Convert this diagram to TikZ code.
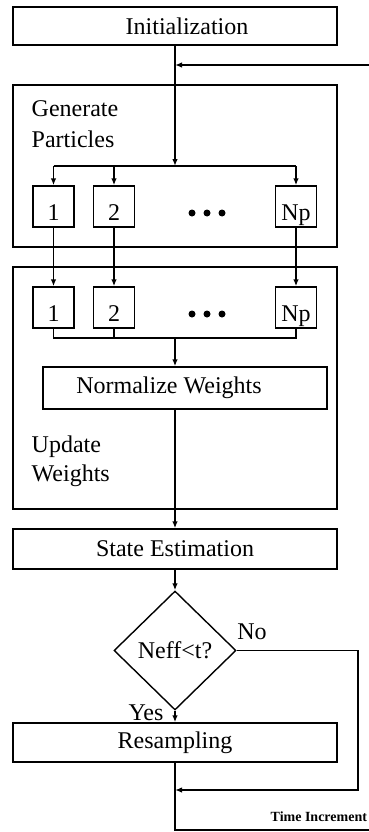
\documentclass[tikz,border=0pt]{standalone}
\usepackage{fontspec}
\setmainfont{Liberation Serif}
\usetikzlibrary{shapes.geometric,arrows.meta}
\begin{document}
\begin{tikzpicture}[x=1pt,y=-1pt,
  line width=1.4pt,
  txt/.style={font=\fontsize{24}{28}\selectfont, inner sep=0pt},
  box/.style={draw, inner sep=0pt, font=\fontsize{24}{28}\selectfont},
  wide/.style={box, minimum width=324pt},
  cell/.style={box, minimum width=41pt, minimum height=41pt, text height=27pt, text depth=0pt},
  arr/.style={-{Latex[length=7pt,width=5.5pt]}},
  dot/.style={fill=black}]
\useasboundingbox (0,0) rectangle (368,832);

% main steps
\node[wide, minimum height=38pt, label={[txt,xshift=12pt]center:Initialization}] (init) at (175,26) {};
\node[wide, minimum height=162pt] (gen) at (175,166) {};
\node[wide, minimum height=242pt] (upd) at (175,388) {};
\node[wide, minimum height=40pt] (state) at (175,549) {State Estimation};
\node[draw, diamond, inner sep=0pt, minimum width=122pt, minimum height=119pt,
      font=\fontsize{24}{28}\selectfont] (test) at (175,650.5) {Neff<t?};
\node[wide, minimum height=39pt] (resamp) at (175,742.5) {Resampling};

% block titles
\node[txt, anchor=base west] (genA) at (31,117) {Generate};
\node[txt, anchor=base west] (genB) at (31,147) {Particles};
\node[txt, anchor=base west] (updA) at (31,452) {Update};
\node[txt, anchor=base west] (updB) at (31,481) {Weights};

% particle cells
\node[cell] (g1) at (53.5,206.5) {1};
\node[cell] (g2) at (114,206.5) {2};
\node[cell] (gn) at (296,206.5) {Np};
\node[cell] (u1) at (53.5,307.5) {1};
\node[cell] (u2) at (114,307.5) {2};
\node[cell] (un) at (296,307.5) {Np};
\foreach \x in {192,207,222} {
  \fill[dot] (\x,213) circle (3.5pt);
  \fill[dot] (\x,314) circle (3.5pt);
}

\node[box, minimum width=284pt, minimum height=42pt,
      label={[txt,xshift=-16pt]center:Normalize Weights}] (norm) at (185,388) {};

% branch labels
\node[txt] (nolab) at (252,632) {No};
\node[txt] (yeslab) at (146,713) {Yes};
\node[font=\bfseries\fontsize{14}{16}\selectfont, inner sep=0pt, anchor=west] (tlab) at (270,817) {Time Increment};

% connectors
\coordinate (split) at (175,166);
\coordinate (fbin) at (175,65);
\coordinate (fbright) at (372,65);
\coordinate (join) at (175,338);
\coordinate (loopx) at (358,790);
\coordinate (back) at (175,790);
\coordinate (tinc) at (175,830);
\coordinate (tincend) at (372,830);

\draw[arr] (init.south) -- (split);
\draw[arr] (fbright) -- (fbin);
\draw (g1 |- split) -- (gn |- split);
\draw[arr] (g1 |- split) -- (g1.north);
\draw[arr] (g2 |- split) -- (g2.north);
\draw[arr] (gn |- split) -- (gn.north);
\draw[arr] (g1) -- (u1);
\draw[arr] (g2) -- (u2);
\draw[arr] (gn) -- (un);
\draw (u1.south) -- (u1.south |- join) -- (un.south |- join) -- (un.south);
\draw (u2.south) -- (u2.south |- join);
\draw[arr] (join) -- (join |- norm.north);
\draw[arr] (norm.south -| join) -- (state.north);
\draw[arr] (state) -- (test);
\draw[arr] (test) -- (resamp);
\draw[arr] (test.east) -| (loopx) -- (back);
\draw (resamp.south) -- (tinc) -- (tincend);
\end{tikzpicture}
\end{document}
